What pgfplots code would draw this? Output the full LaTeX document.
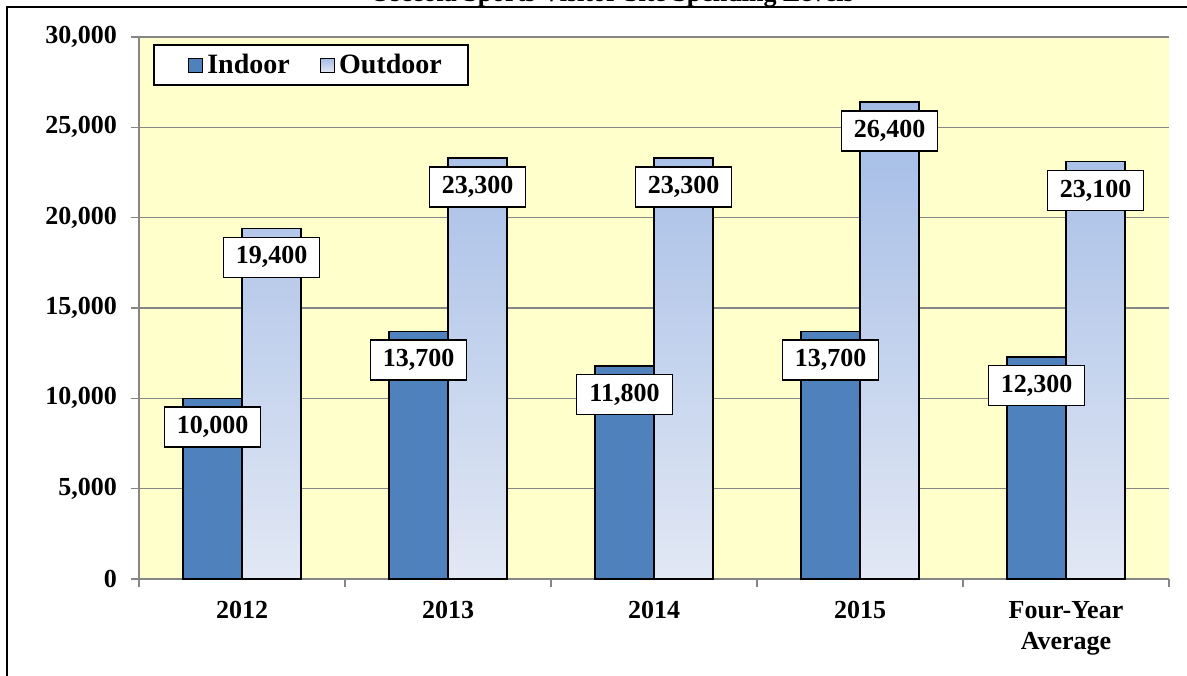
\documentclass[border=0pt]{standalone}
\usepackage{fontspec}
\setmainfont{Liberation Serif}
\usepackage{pgfplots}
\usepackage{pgfplotstable}
\pgfplotsset{compat=1.18}
\definecolor{indoorblue}{RGB}{79,129,189}
\definecolor{outtop}{RGB}{162,187,230}
\definecolor{outbot}{RGB}{226,232,244}
\definecolor{plotyellow}{RGB}{255,255,204}
\definecolor{gridgray}{RGB}{134,134,134}

% visitor spending by year
\pgfplotstableread{
x indoor outdoor
0 10000 19400
1 13700 23300
2 11800 23300
3 13700 26400
4 12300 23100
}\spending

\begin{document}
\begin{tikzpicture}[x=1pt,y=1pt]
\path[use as bounding box] (0,0) rectangle (593.5,337.5);
\clip (0,0) rectangle (593.5,337.5);
\node[font=\bfseries\fontsize{13}{15}\selectfont, anchor=base] at (306,336.8)
  {Osceola Sports Visitor Site Spending Levels};
\draw[line width=1pt] (3.5,-20) -- (3.5,334) -- (620,334);
\begin{axis}[
  at={(69.5pt,48pt)}, anchor=south west,
  scale only axis, width=515pt, height=271pt,
  xmin=-0.5, xmax=4.5, ymin=0, ymax=30000,
  bar width=29.5pt,
  xtick={0,1,2,3,4},
  xticklabels={2012,2013,2014,2015,{Four-Year\\Average}},
  minor xtick={-0.5,0.5,1.5,2.5,3.5,4.5},
  ytick={0,5000,...,30000},
  scaled y ticks=false,
  /pgf/number format/1000 sep={,},
  /pgf/number format/assume math mode=true,
  ticklabel style={font=\bfseries\fontsize{13}{15.5}\selectfont},
  xticklabel style={align=center, yshift=-3.5pt},
  yticklabel style={xshift=-3.5pt},
  axis lines*=left,
  axis line style={draw=gridgray, line width=1pt},
  tick align=outside,
  tick style={draw=gridgray, line width=0.8pt},
  major tick length=4pt, minor tick length=4pt,
  major x tick style={draw=none},
  ymajorgrids,
  grid style={draw=gridgray, line width=0.8pt},
  axis background/.style={fill=plotyellow},
  every node near coord/.append style={fill=white, draw=black, line width=0.75pt,
    text=black, font=\bfseries\fontsize{13}{15}\selectfont,
    minimum width=48pt, minimum height=20pt, anchor=north, yshift=-4pt},
  legend style={at={(0.0136,0.987)}, anchor=north west, draw=black,
    line width=1pt, fill=white, font=\bfseries\fontsize{14}{16}\selectfont,
    inner xsep=11pt, inner ysep=2.5pt,
    /tikz/every even column/.append style={column sep=7pt}},
  legend columns=2,
  legend image code/.code={\path (0pt,0pt);
    \draw[#1, line width=0.6pt] (6pt,-3.5pt) rectangle (13pt,3.5pt);},
]
\addplot[ybar, bar shift=-14.75pt, fill=indoorblue, draw=black, line width=0.75pt]
  table[x=x, y=indoor] {\spending};
\addplot[ybar, bar shift=14.75pt, top color=outtop, bottom color=outbot, draw=black,
  line width=0.75pt, nodes near coords,
  every node near coord/.append style={xshift=14.75pt}]
  table[x=x, y=outdoor] {\spending};
\addplot[ybar, bar shift=-14.75pt, draw=none, fill=none, nodes near coords, forget plot,
  every node near coord/.append style={xshift=-14.75pt}]
  table[x=x, y=indoor] {\spending};
\legend{Indoor, Outdoor}
\end{axis}
\end{tikzpicture}
\end{document}
